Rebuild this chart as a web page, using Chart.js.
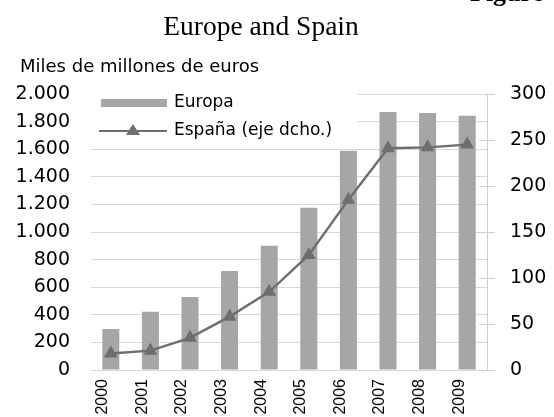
<!DOCTYPE html>
<html>
<head>
<meta charset="utf-8">
<script src="https://cdn.jsdelivr.net/npm/chart.js@4/dist/chart.umd.min.js"></script>
<style>
    html, body { margin: 0; padding: 0; background: #fff; }
    #wrap { width: 554px; height: 417px; position: relative; }
</style>
</head>
<body>
<div id="wrap"><canvas id="euroChart" width="554" height="417"></canvas></div>
<script>
const years = ['2000', '2001', '2002', '2003', '2004', '2005', '2006', '2007', '2008', '2009'];
const europa = [297, 422, 529, 717, 901, 1176, 1589, 1870, 1862, 1843];
const espana = [18, 21, 35, 58, 85, 125, 185, 241, 242, 245];
const leftTickLabels = ['0', '200', '400', '600', '800', '1.000', '1.200', '1.400', '1.600', '1.800', '2.000'];
const rightTickLabels = ['0', '50', '100', '150', '200', '250', '300'];

const barColor = '#a6a6a6';
const lineColor = '#6e6e6e';
const gridColor = '#d9d9d9';

// titles and legend are drawn by hand, the chart has them inside the plot
const decorPlugin = {
    id: 'decor',
    beforeDatasetsDraw(chart) {
        const ctx = chart.ctx;
        const area = chart.chartArea;
        ctx.save();
        // white legend box hides the two top gridlines
        ctx.fillStyle = '#fff';
        ctx.fillRect(area.left, area.top - 2, 266, 44);

        ctx.fillStyle = barColor;
        ctx.fillRect(101, 99, 66, 8);

        ctx.strokeStyle = lineColor;
        ctx.lineWidth = 2.2;
        ctx.beginPath();
        ctx.moveTo(99, 131);
        ctx.lineTo(167, 131);
        ctx.stroke();
        ctx.fillStyle = lineColor;
        ctx.beginPath();
        ctx.moveTo(133, 124);
        ctx.lineTo(140, 135);
        ctx.lineTo(126, 135);
        ctx.closePath();
        ctx.fill();

        ctx.fillStyle = '#000';
        ctx.font = '17px "DejaVu Sans"';
        ctx.textBaseline = 'middle';
        ctx.textAlign = 'left';
        ctx.fillText('Europa', 174, 103);
        ctx.fillText('España (eje dcho.)', 174, 131);

        // small inner ticks on the right axis
        const right = chart.scales.y1;
        ctx.strokeStyle = '#cfcfcf';
        ctx.lineWidth = 1;
        right.ticks.forEach((t, i) => {
            const y = Math.round(right.getPixelForTick(i)) + 0.5;
            ctx.beginPath();
            ctx.moveTo(area.right - 8, y);
            ctx.lineTo(area.right, y);
            ctx.stroke();
        });
        ctx.restore();
    },
    afterDraw(chart) {
        const ctx = chart.ctx;
        ctx.save();
        ctx.fillStyle = '#000';
        ctx.textBaseline = 'alphabetic';

        ctx.font = 'bold 26px "Liberation Serif"';
        ctx.textAlign = 'left';
        ctx.fillText('Figure', 470, 1);

        ctx.font = '27.5px "Liberation Serif"';
        ctx.textAlign = 'center';
        ctx.fillText('Europe and Spain', 261, 35);

        ctx.font = '18px "DejaVu Sans"';
        ctx.textAlign = 'left';
        ctx.fillText('Miles de millones de euros', 20, 72);
        ctx.restore();
    }
};

const ctx = document.getElementById('euroChart').getContext('2d');
new Chart(ctx, {
    type: 'bar',
    data: {
        labels: years,
        datasets: [
            {
                type: 'line',
                label: 'España (eje dcho.)',
                data: espana,
                yAxisID: 'y1',
                borderColor: lineColor,
                backgroundColor: lineColor,
                borderWidth: 2.4,
                pointStyle: 'triangle',
                pointRadius: 8,
                pointBorderWidth: 0,
                tension: 0,
                order: 0
            },
            {
                label: 'Europa',
                data: europa,
                yAxisID: 'y',
                backgroundColor: barColor,
                categoryPercentage: 1,
                barPercentage: 0.43,
                order: 1
            }
        ]
    },
    options: {
        responsive: false,
        animation: false,
        layout: { padding: { top: 94, left: 0, right: 0, bottom: 0 } },
        plugins: {
            legend: { display: false },
            title: { display: false },
            tooltip: { enabled: false }
        },
        scales: {
            x: {
                offset: true,
                grid: { display: false, drawTicks: false },
                border: { display: false },
                ticks: {
                    color: '#000',
                    font: { family: 'Liberation Sans', size: 16 },
                    minRotation: 90,
                    maxRotation: 90,
                    padding: 9,
                    labelOffset: -8
                },
                afterFit: (scale) => { scale.height = 47; }
            },
            y: {
                position: 'left',
                min: 0,
                max: 2000,
                ticks: {
                    stepSize: 200,
                    color: '#000',
                    font: { family: 'DejaVu Sans', size: 19 },
                    padding: 21,
                    callback: (v, i) => leftTickLabels[i]
                },
                grid: { color: gridColor, drawTicks: false },
                border: { display: false },
                afterFit: (scale) => { scale.width = 91; }
            },
            y1: {
                position: 'right',
                min: 0,
                max: 300,
                ticks: {
                    stepSize: 50,
                    color: '#000',
                    font: { family: 'DejaVu Sans', size: 19 },
                    padding: 15,
                    callback: (v, i) => rightTickLabels[i]
                },
                grid: { drawOnChartArea: false, color: '#cfcfcf', tickLength: 8 },
                border: { display: true, color: '#cfcfcf' },
                afterFit: (scale) => { scale.width = 67; }
            }
        }
    },
    plugins: [decorPlugin]
});
</script>
</body>
</html>
